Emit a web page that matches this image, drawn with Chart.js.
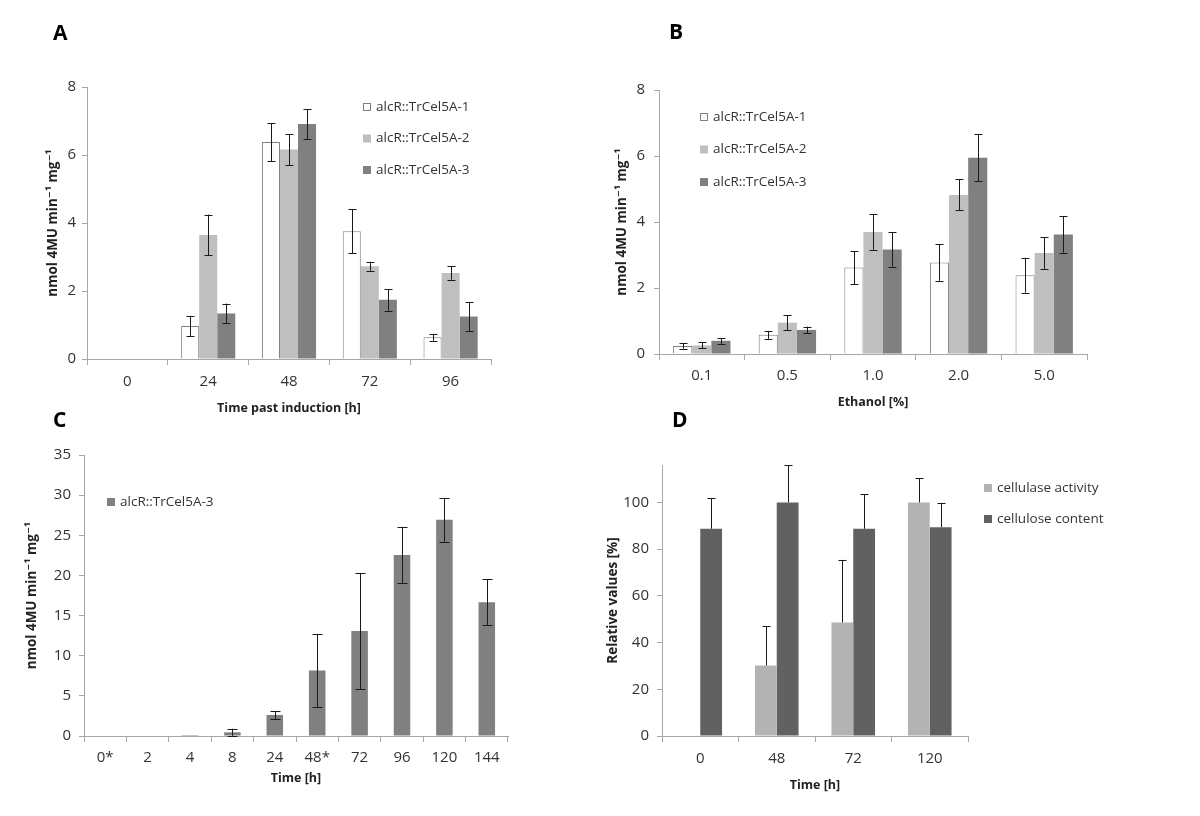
<!doctype html>
<html lang="en">
  <head>
    <script src="https://cdn.jsdelivr.net/npm/chart.js"></script>
    <title>alcR::TrCel5A activity</title>
    <style>
      body { margin: 0; background: #fff; }
      #wrap { position: relative; width: 1200px; height: 816px; }
      #wrap canvas { position: absolute; left: 0; top: 0; }
    </style>
  </head>
  <body>
    <div id="wrap">
      <canvas id="chartA" width="1200" height="816"></canvas>
      <canvas id="chartB" width="1200" height="816"></canvas>
      <canvas id="chartC" width="1200" height="816"></canvas>
      <canvas id="chartD" width="1200" height="816"></canvas>
    </div>
  <script>
    // ---- data ----
    // A: time past induction
    const timeA = ['0', '24', '48', '72', '96'];
    const a1 = [null, 0.97, 6.38, 3.76, 0.64];
    const a1err = [null, 0.30, 0.56, 0.65, 0.10];
    const a2 = [null, 3.65, 6.16, 2.73, 2.53];
    const a2err = [null, 0.60, 0.46, 0.13, 0.20];
    const a3 = [null, 1.34, 6.91, 1.74, 1.25];
    const a3err = [null, 0.29, 0.44, 0.32, 0.43];

    // B: ethanol concentration
    const ethanol = ['0.1', '0.5', '1.0', '2.0', '5.0'];
    const b1 = [0.24, 0.58, 2.62, 2.77, 2.39];
    const b1err = [0.08, 0.12, 0.50, 0.55, 0.53];
    const b2 = [0.26, 0.95, 3.70, 4.82, 3.06];
    const b2err = [0.09, 0.23, 0.54, 0.47, 0.48];
    const b3 = [0.40, 0.73, 3.17, 5.95, 3.62];
    const b3err = [0.09, 0.10, 0.52, 0.72, 0.55];

    // C: long time course, strain 3
    const timeC = ['0*', '2', '4', '8', '24', '48*', '72', '96', '120', '144'];
    const c3 = [null, null, 0.12, 0.46, 2.62, 8.15, 13.09, 22.53, 26.93, 16.67];
    const c3err = [null, null, null, 0.45, 0.50, 4.57, 7.23, 3.53, 2.74, 2.83];

    // D: relative values
    const timeD = ['0', '48', '72', '120'];
    const activity = [null, 30.2, 48.6, 100];
    const activityErr = [null, 16.8, 26.8, 10.3];
    const cellulose = [88.7, 100, 88.7, 89.4];
    const celluloseErr = [13.0, 15.8, 14.7, 10.4];

    const strainNames = ['alcR::TrCel5A-1', 'alcR::TrCel5A-2', 'alcR::TrCel5A-3'];

    Chart.defaults.font.family = "'Open Sans', 'DejaVu Sans', sans-serif";
    Chart.defaults.color = '#333';

    const AXIS = '#a6a6a6';

    // error bars, drawn from dataset.errors through the y scale
    const errorBars = {
        id: 'errorBars',
        afterDatasetsDraw(chart, args, opts) {
            const ctx = chart.ctx;
            const y = chart.scales.y;
            ctx.save();
            ctx.strokeStyle = '#1a1a1a';
            ctx.lineWidth = 1;
            chart.data.datasets.forEach((ds, i) => {
                const meta = chart.getDatasetMeta(i);
                meta.data.forEach((bar, j) => {
                    const v = ds.data[j];
                    const e = ds.errors ? ds.errors[j] : null;
                    if (v == null || e == null) return;
                    const x = Math.round(bar.x) + 0.5;
                    const top = y.getPixelForValue(v + e);
                    const bot = opts.upperOnly ? y.getPixelForValue(v) : y.getPixelForValue(v - e);
                    ctx.beginPath();
                    ctx.moveTo(x, bot);
                    ctx.lineTo(x, top);
                    ctx.moveTo(x - opts.cap, Math.round(top) + 0.5);
                    ctx.lineTo(x + opts.cap, Math.round(top) + 0.5);
                    if (!opts.upperOnly) {
                        ctx.moveTo(x - opts.cap, Math.round(bot) + 0.5);
                        ctx.lineTo(x + opts.cap, Math.round(bot) + 0.5);
                    }
                    ctx.stroke();
                });
            });
            ctx.restore();
        }
    };

    // legend inside the panel plus the panel letter
    const panelDecor = {
        id: 'panelDecor',
        afterDraw(chart, args, opts) {
            const ctx = chart.ctx;
            ctx.save();
            ctx.font = "bold 21px 'Open Sans', sans-serif";
            ctx.fillStyle = '#000';
            ctx.textBaseline = 'alphabetic';
            ctx.fillText(opts.letter, opts.letterX, opts.letterY);
            ctx.font = "13.5px 'Open Sans', sans-serif";
            ctx.textBaseline = 'middle';
            chart.data.datasets.forEach((ds, i) => {
                const yy = opts.y + i * opts.dy;
                ctx.fillStyle = ds.backgroundColor;
                ctx.fillRect(opts.x, yy - 4, 8, 8);
                if (ds.borderWidth) {
                    ctx.strokeStyle = ds.borderColor;
                    ctx.lineWidth = 1;
                    ctx.strokeRect(opts.x + 0.5, yy - 3.5, 7, 7);
                }
                ctx.fillStyle = '#333';
                ctx.fillText(ds.label, opts.x + 13, yy);
            });
            ctx.restore();
        }
    };

    function makePanel(id, p) {
        const yLH = 13.5 * 1.2;
        const xLH = 12.5 * 1.2;
        const tickSize = 15;
        const yBoxLeft = p.yTitleX - yLH / 2;
        const yWidth = p.l - yBoxLeft;
        const xHeight = p.xTitleY + xLH / 2 - p.b;
        new Chart(document.getElementById(id), {
            type: 'bar',
            data: { labels: p.labels, datasets: p.datasets },
            plugins: [errorBars, panelDecor],
            options: {
                responsive: false,
                animation: false,
                events: [],
                layout: {
                    padding: { left: yBoxLeft, top: p.t, right: 1200 - p.r, bottom: 816 - p.b - xHeight }
                },
                datasets: { bar: { categoryPercentage: p.catPct, barPercentage: 1 } },
                plugins: {
                    legend: { display: false },
                    tooltip: { enabled: false },
                    errorBars: { cap: p.cap, upperOnly: !!p.upperOnly },
                    panelDecor: p.decor
                },
                scales: {
                    x: {
                        grid: { drawOnChartArea: false, tickLength: 6, color: AXIS, offset: true },
                        border: { color: AXIS },
                        ticks: { font: { size: tickSize }, color: '#333', padding: p.xLabY - p.b - 6 - tickSize * 0.6, maxRotation: 0 },
                        title: { display: true, text: p.xTitle, font: { size: 12.5, weight: 'bold' }, color: '#222', padding: 0 },
                        afterFit: s => { s.height = xHeight; }
                    },
                    y: {
                        min: 0, max: p.yMax,
                        grid: { drawOnChartArea: false, tickLength: 5, color: AXIS },
                        border: { color: AXIS },
                        ticks: { stepSize: p.yStep, font: { size: tickSize }, color: '#333', padding: p.l - 5 - p.yLabRight },
                        afterBuildTicks: s => { s.ticks = s.ticks.filter(t => Math.abs(t.value / p.yStep - Math.round(t.value / p.yStep)) < 1e-6); },
                        title: { display: true, text: p.yTitle, font: { size: 13.5, weight: 'bold' }, color: '#222', padding: 0 },
                        afterFit: s => { s.width = yWidth; }
                    }
                }
            }
        });
    }

    const yUnit = 'nmol 4MU min\u207B\u00B9 mg\u207B\u00B9';
    const white = { backgroundColor: '#ffffff', borderColor: '#7f7f7f', borderWidth: 1 };
    const light = { backgroundColor: '#bfbfbf', borderWidth: 0 };
    const dark = { backgroundColor: '#808080', borderWidth: 0 };

    makePanel('chartA', {
        labels: timeA,
        datasets: [
            Object.assign({ label: strainNames[0], data: a1, errors: a1err }, white),
            Object.assign({ label: strainNames[1], data: a2, errors: a2err }, light),
            Object.assign({ label: strainNames[2], data: a3, errors: a3err }, dark)
        ],
        l: 87, r: 491, t: 87, b: 359, yMax: 8, yStep: 2,
        yTitleX: 53, xTitleY: 408, xLabY: 382, yLabRight: 76,
        xTitle: 'Time past induction [h]', yTitle: yUnit,
        catPct: 0.67, cap: 4,
        decor: { letter: 'A', letterX: 53, letterY: 40, x: 363, y: 107, dy: 31.5 }
    });

    makePanel('chartB', {
        labels: ethanol,
        datasets: [
            Object.assign({ label: strainNames[0], data: b1, errors: b1err }, white),
            Object.assign({ label: strainNames[1], data: b2, errors: b2err }, light),
            Object.assign({ label: strainNames[2], data: b3, errors: b3err }, dark)
        ],
        l: 659, r: 1087, t: 90, b: 354, yMax: 8, yStep: 2,
        yTitleX: 622, xTitleY: 402, xLabY: 376, yLabRight: 645,
        xTitle: 'Ethanol [%]', yTitle: yUnit,
        catPct: 0.67, cap: 4,
        decor: { letter: 'B', letterX: 669, letterY: 39, x: 700, y: 117, dy: 32.5 }
    });

    makePanel('chartC', {
        labels: timeC,
        datasets: [
            { label: strainNames[2], data: c3, errors: c3err, backgroundColor: '#808080', borderWidth: 0 }
        ],
        l: 84, r: 508, t: 455, b: 736, yMax: 35, yStep: 5,
        yTitleX: 32, xTitleY: 778, xLabY: 758, yLabRight: 71,
        xTitle: 'Time [h]', yTitle: yUnit,
        catPct: 0.39, cap: 5,
        decor: { letter: 'C', letterX: 53, letterY: 427, x: 107, y: 502, dy: 0 }
    });

    makePanel('chartD', {
        labels: timeD,
        datasets: [
            { label: 'cellulase activity', data: activity, errors: activityErr, backgroundColor: '#b3b3b3', borderWidth: 0 },
            { label: 'cellulose content', data: cellulose, errors: celluloseErr, backgroundColor: '#616161', borderWidth: 0 }
        ],
        l: 662, r: 968, t: 465, b: 736, yMax: 116, yStep: 20,
        yTitleX: 613, xTitleY: 785, xLabY: 759, yLabRight: 649,
        xTitle: 'Time [h]', yTitle: 'Relative values [%]',
        catPct: 0.57, cap: 4, upperOnly: true,
        decor: { letter: 'D', letterX: 672, letterY: 427, x: 984, y: 488, dy: 31 }
    });
  </script>
  </body>
</html>
